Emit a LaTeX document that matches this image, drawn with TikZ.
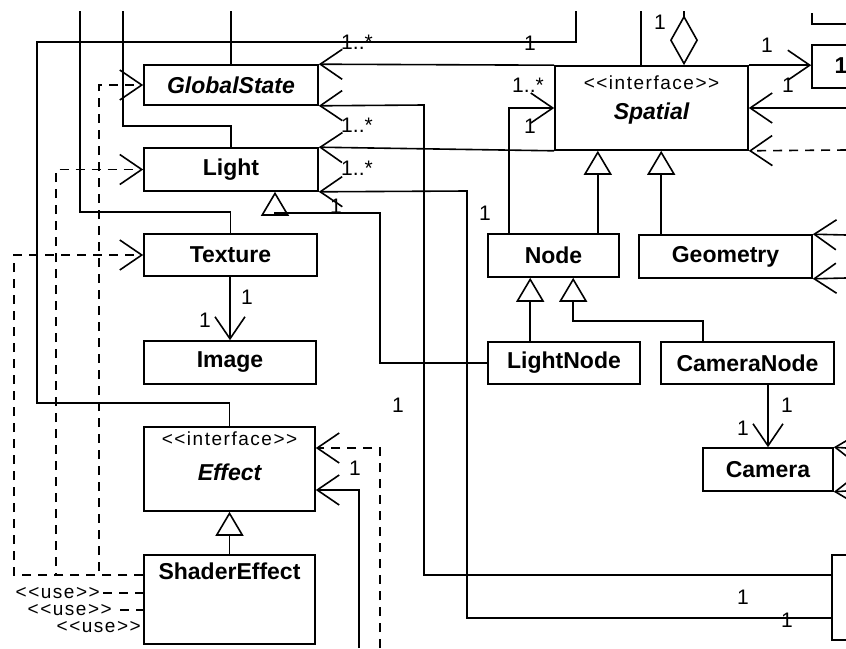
\documentclass[tikz,border=0pt]{standalone}
\usepackage{fontspec}
\setmainfont{Liberation Sans}
\newfontfamily\kieu[LetterSpace=8]{Liberation Sans}
\usetikzlibrary{arrows.meta,positioning}

\newcommand\chuten{\fontsize{23}{27}\selectfont\bfseries}
\newcommand\chunho{\fontsize{19}{23}\selectfont\kieu}
\newcommand\chuso{\fontsize{21}{25}\selectfont}

\tikzset{
  lop/.style={draw, line width=1.6pt, inner sep=0pt, font=\chuten},
  so/.style={inner sep=0pt, font=\chuso},
  nhan/.style={inner sep=0pt, font=\chunho},
  duong/.style={line width=1.6pt},
  mui/.style={duong, -{Straight Barb[length=22pt, width=30pt]}},
  phu/.style={mui, dash pattern=on 9pt off 7pt},
  gach/.style={duong, dash pattern=on 9pt off 7pt},
  kethua/.style={duong, -{Triangle[open, length=24pt, width=28pt]}},
}

\begin{document}
\begin{tikzpicture}[x=1pt, y=-1pt]
\useasboundingbox (0,0) rectangle (846,648);
\clip (0,0) rectangle (846,648);

% Các lớp bên trái
\node[lop, minimum width=174pt, minimum height=40pt] (gs) at (231,85) {\itshape GlobalState};
\node[lop, minimum width=174pt, minimum height=43pt] (light) at (231,169.5) {Light};
\node[lop, minimum width=173pt, minimum height=42pt] (tex) at (230.5,255) {Texture};
\node[lop, minimum width=172pt, minimum height=43pt] (img) at (230,362.5) {Image};
\node[lop, minimum width=171pt, minimum height=84pt] (effect) at (229.5,469) {};
\node[nhan] (effkieu) at (229.5,439) {<<interface>>};
\node[font=\chuten\itshape, inner sep=0pt] (efften) at (229.5,472) {Effect};
\node[lop, minimum width=171pt, minimum height=89pt] (se) at (229.5,599.5) {};
\node[font=\chuten, inner sep=0pt] (seten) at (229.5,571) {ShaderEffect};

% Các lớp bên phải
\node[lop, minimum width=193pt, minimum height=84pt] (spatial) at (651.5,108) {};
\node[nhan] (spkieu) at (651.5,83) {<<interface>>};
\node[font=\chuten\itshape, inner sep=0pt] (spten) at (651.5,114) {Spatial};
\node[lop, minimum width=131pt, minimum height=43pt] (nut) at (553.5,255.5) {Node};
\node[lop, minimum width=173pt, minimum height=43pt] (geom) at (725.5,256.5) {Geometry};
\node[lop, minimum width=152pt, minimum height=42pt] (lnode) at (564,363) {LightNode};
\node[lop, minimum width=173pt, minimum height=42pt] (cnode) at (747.5,363) {CameraNode};
\node[lop, minimum width=130pt, minimum height=43pt] (cam) at (768,469.5) {Camera};
\node[lop, minimum width=120pt, minimum height=43pt] (bv) at (872,66.5) {};
\node[font=\chuten, inner sep=0pt] (bvten) at (841,66) {1};
\node[lop, minimum width=100pt, minimum height=85pt] (br) at (882,597.5) {};

% Đầu các đường bị cắt
\coordinate (d1) at (80,11);
\coordinate (d2) at (123,11);
\coordinate (d3) at (232,11);
\coordinate (d4) at (576,11);
\coordinate (d5) at (641,11);
\coordinate (d6) at (684,11);
\coordinate (d7) at (812,13);
\coordinate (d8) at (846,24);
\coordinate (p1) at (846,108);
\coordinate (p2) at (846,150);
\coordinate (p3) at (846,235);
\coordinate (p4) at (846,278);
\coordinate (p5) at (846,448);
\coordinate (p6) at (846,491);
\coordinate (e1) at (380,648);
\coordinate (e2) at (359,648);

% Các đường phía trên
\draw[duong] (tex.north) |- (80,212) -- (d1);
\draw[duong] (light.north) |- (123,126) -- (d2);
\draw[duong] (gs.north) -- (gs.north |- d3);
\draw[duong] (effect.north) |- (37,403) |- (576,42) -- (d4);
\draw[duong] (spatial.north -| d5) -- (d5);
\draw[duong, {Diamond[open, length=50pt, width=28pt]}-] (spatial.north -| d6) -- (d6);
\draw[duong] (d7) |- (d8);

% Liên kết với Spatial
\draw[mui] (spatial.north west) -- (gs.north east);
\draw[mui] (spatial.south west) -- (light.north east);
\draw[mui] (spatial.north east) -- (spatial.north east -| bv.west);
\draw[mui] (p1) -- (spatial.east);
\draw[phu] (p2) -- (spatial.south east);
\draw[mui] ([xshift=22]nut.north west) |- (spatial.west);
\draw[kethua] ([xshift=-22]nut.north east) -- ([xshift=-22]nut.north east |- spatial.south);
\draw[kethua] ([xshift=23]geom.north west) -- ([xshift=23]geom.north west |- spatial.south);
\draw[mui] (p3) -- (geom.north east);
\draw[mui] (p4) -- (geom.south east);

% Liên kết dài xuống dưới
\draw[mui] ([yshift=22.5]br.west) -| (424,105) -- (gs.south east);
\draw[mui] ([yshift=-20.5]br.west) -| (467,191) -- (light.south east);
\draw[kethua] (lnode.west) -| (380,213) -| ([xshift=44]light.south);

% Kế thừa Node
\draw[kethua] ([xshift=43]nut.south west |- lnode.north) -- ([xshift=43]nut.south west);
\draw[kethua] ([xshift=43]cnode.north west) -- ++(0,-20) -| ([xshift=86]nut.south west);
\draw[mui] (cam.north |- cnode.south) -- (cam.north);
\draw[mui] (p5) -- (cam.north east);
\draw[mui] (p6) -- (cam.south east);

% Texture, Effect
\draw[mui] (img.north |- tex.south) -- (img.north);
\draw[kethua] (se.north) -- (effect.south);
\draw[phu] (e1) |- ([yshift=21]effect.east);
\draw[mui] (e2) |- ([yshift=-21]effect.east);

% Phụ thuộc <<use>>
\draw[phu] ([yshift=24.5]se.west) -| ([xshift=-44]gs.west) -- (gs.west);
\draw[phu] ([yshift=24.5]se.west) -| ([xshift=-87]light.west) -- (light.west);
\draw[phu] ([yshift=24.5]se.west) -| ([xshift=-129]tex.west) -- (tex.west);
\node[nhan, anchor=east] (u1) at (100,593) {<<use>>};
\node[nhan, anchor=east] (u2) at (112,610) {<<use>>};
\node[nhan, anchor=east] (u3) at (141,627) {<<use>>};
\draw[gach] ([xshift=3]u1.east) -- (u1.east -| se.west);
\draw[gach] ([xshift=8]u2.east) -- (u2.east -| se.west);

% Bội số
\node[so] (b1) at (357,42) {1..*};
\node[so] (b2) at (357,125) {1..*};
\node[so] (b3) at (357,168) {1..*};
\node[so] (b4) at (336,206) {1};
\node[so] (b5) at (530,43) {1};
\node[so] (b6) at (660,22) {1};
\node[so] (b7) at (528,85) {1..*};
\node[so] (b8) at (530,126) {1};
\node[so] (b9) at (767,45) {1};
\node[so] (b10) at (788,85) {1};
\node[so] (b11) at (485,213) {1};
\node[so] (b12) at (247,297) {1};
\node[so] (b13) at (205,320) {1};
\node[so] (b14) at (787,405) {1};
\node[so] (b15) at (743,428) {1};
\node[so] (b16) at (398,405) {1};
\node[so] (b17) at (355,468) {1};
\node[so] (b18) at (743,597) {1};
\node[so] (b19) at (787,620) {1};

\end{tikzpicture}
\end{document}
